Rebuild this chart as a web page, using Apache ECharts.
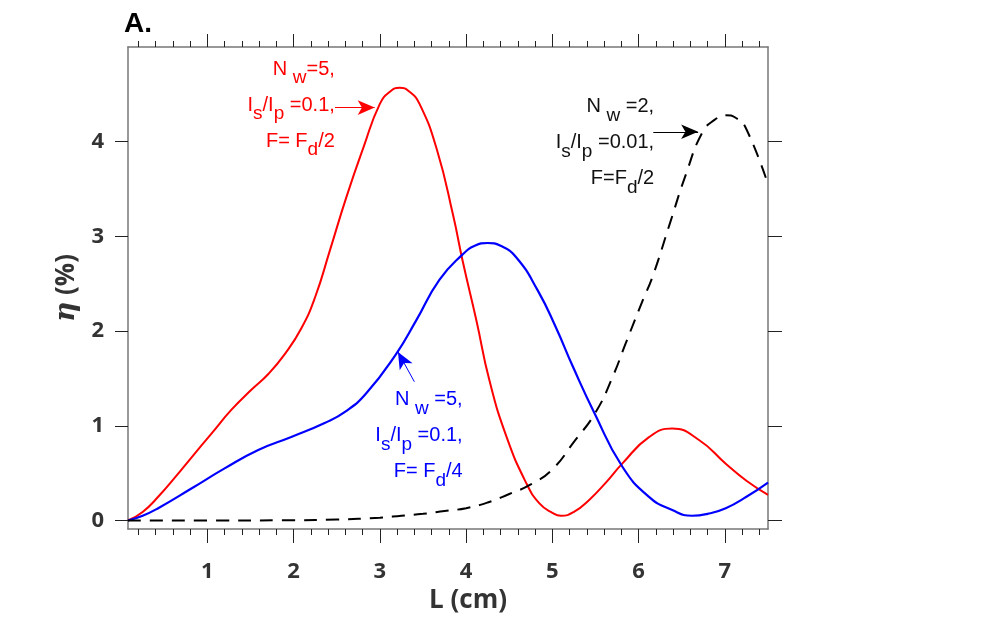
<!DOCTYPE html>
<html>
<head>
<meta charset="utf-8">
<style>
html, body { margin: 0; padding: 0; background: #fff; }
#chart-panel { width: 990px; height: 625px; }
</style>
<script src="https://cdn.jsdelivr.net/npm/echarts@6/dist/echarts.min.js"></script>
</head>
<body>
<div id="chart-panel"></div>
<script type="text/javascript">
// curve readings, L (cm) vs eta (%)
var redL = [0.08, 0.25, 0.43, 0.63, 0.82, 1.05, 1.28, 1.51, 1.71, 1.90, 2.09, 2.25, 2.42, 2.61, 2.81, 3.0, 3.12, 3.23, 3.34, 3.46, 3.66, 3.85, 3.96, 4.12, 4.27, 4.47, 4.70, 4.85, 5.0, 5.1, 5.25, 5.43, 5.62, 5.81, 6.12, 6.39, 6.70, 7.01, 7.25, 7.5];
var redEta = [0, 0.09, 0.25, 0.46, 0.67, 0.92, 1.17, 1.38, 1.55, 1.76, 2.03, 2.36, 2.85, 3.41, 3.94, 4.40, 4.53, 4.57, 4.53, 4.40, 3.92, 3.22, 2.74, 2.11, 1.48, 0.88, 0.39, 0.18, 0.08, 0.05, 0.09, 0.22, 0.40, 0.60, 0.88, 0.97, 0.85, 0.60, 0.42, 0.27];

var blueL = [0.08, 0.25, 0.43, 0.82, 1.20, 1.59, 1.98, 2.36, 2.60, 2.84, 3.19, 3.42, 3.69, 3.96, 4.10, 4.25, 4.40, 4.58, 4.83, 5.04, 5.24, 5.49, 5.81, 6.12, 6.39, 6.62, 6.80, 7.01, 7.25, 7.5];
var blueEta = [0, 0.05, 0.13, 0.34, 0.55, 0.745, 0.885, 1.03, 1.15, 1.34, 1.76, 2.11, 2.54, 2.81, 2.90, 2.93, 2.90, 2.78, 2.43, 2.04, 1.62, 1.13, 0.57, 0.25, 0.11, 0.05, 0.07, 0.13, 0.25, 0.40];

var blackL = [0.08, 1.0, 2.0, 2.5, 3.0, 3.25, 3.5, 3.75, 4.0, 4.25, 4.5, 4.75, 5.0, 5.25, 5.5, 5.70, 5.85, 6.05, 6.16, 6.36, 6.55, 6.74, 6.88, 7.01, 7.13, 7.24, 7.5];
var blackEta = [0, 0, 0.003, 0.01, 0.03, 0.05, 0.07, 0.10, 0.13, 0.19, 0.28, 0.38, 0.54, 0.83, 1.14, 1.52, 1.87, 2.33, 2.57, 3.13, 3.66, 4.10, 4.23, 4.28, 4.25, 4.15, 3.55];

// ticks
var xMajorTicks = [1, 2, 3, 4, 5, 6, 7];
var xMinorTicks = [0.2, 0.4, 0.6, 0.8, 1.2, 1.4, 1.6, 1.8, 2.2, 2.4, 2.6, 2.8, 3.2, 3.4, 3.6, 3.8, 4.2, 4.4, 4.6, 4.8, 5.2, 5.4, 5.6, 5.8, 6.2, 6.4, 6.6, 6.8, 7.2, 7.4];
var yTicks = [0, 1, 2, 3, 4];

// annotation anchors (data coords)
var redArrow = [[2.48, 4.36], [2.94, 4.36]];
var blueArrow = [[3.40, 1.465], [3.21, 1.78]];
var blackArrow = [[6.17, 4.105], [6.69, 4.105]];
var redNote = [2.478, 4.386];
var blueNote = [3.96, 0.898];
var blackNote = [6.18, 3.99];

function pairs(xs, ys) {
    return xs.map(function (x, i) { return [x, ys[i]]; });
}

var xMin = 0.08, xMax = 7.5, yMin = -0.09, yMax = 5;
var lineCol = '#777';
var tickCol = '#222';
var labelFont = 'Open Sans';

function xAxisDef(pos, ticks, len, showLine, withLabel) {
    var a = {
        type: 'value', position: pos, min: xMin, max: xMax,
        splitLine: { show: false },
        axisLine: { show: showLine, onZero: false, lineStyle: { color: lineCol, width: 1.5 } },
        axisTick: { show: true, customValues: ticks, length: len, lineStyle: { color: tickCol, width: 1 } },
        axisLabel: { show: false }
    };
    if (withLabel) {
        a.axisLabel = {
            show: true, customValues: xMajorTicks, margin: 32,
            fontSize: 22, fontWeight: 'bold', color: '#333', fontFamily: labelFont
        };
        a.name = 'L (cm)';
        a.nameLocation = 'middle';
        a.nameGap = 50;
        a.nameTextStyle = {
            fontSize: 26, fontWeight: 'bold', color: '#333', fontFamily: labelFont,
            padding: [0, 0, 0, 40]
        };
    }
    return a;
}

function note(color, lines) {
    return {
        show: true, position: 'left', distance: 0, align: 'right',
        formatter: lines.join('\n'),
        rich: {
            t: { fontSize: 20, lineHeight: 36, color: color, fontFamily: 'Liberation Sans' },
            s: { fontSize: 19, lineHeight: 18, padding: [18, 0, 0, 0], color: color, fontFamily: 'Liberation Sans' }
        }
    };
}

function arrow(color, pts) {
    return {
        silent: true, symbol: ['none', 'arrow'], symbolSize: [11, 17],
        lineStyle: { color: color, width: 1, type: 'solid' },
        label: { show: false },
        emphasis: { disabled: true },
        data: [[{ coord: pts[0] }, { coord: pts[1] }]]
    };
}

function notePoint(color, pt, lines) {
    return {
        silent: true, symbol: 'circle', symbolSize: 0,
        itemStyle: { color: 'rgba(0,0,0,0)' },
        label: note(color, lines),
        data: [{ coord: pt }]
    };
}

var myChart = echarts.init(document.getElementById('chart-panel'));

var option = {
    animation: false,
    backgroundColor: '#fff',
    title: {
        text: 'A.', left: 124, top: 10, padding: 0,
        textStyle: { fontSize: 28, fontWeight: 'bold', color: '#000', fontFamily: 'Liberation Sans' }
    },
    grid: { left: 128, right: 222, top: 47, bottom: 96 },
    xAxis: [
        xAxisDef('bottom', xMajorTicks, 14, true, true),
        xAxisDef('bottom', xMinorTicks, 6, false, false),
        xAxisDef('top', xMajorTicks, 13, true, false),
        xAxisDef('top', xMinorTicks, 6, false, false)
    ],
    yAxis: [
        {
            type: 'value', position: 'left', min: yMin, max: yMax,
            splitLine: { show: false },
            axisLine: { show: true, onZero: false, lineStyle: { color: lineCol, width: 1.5 } },
            axisTick: { show: true, customValues: yTicks, length: 13, lineStyle: { color: tickCol, width: 1 } },
            axisLabel: {
                customValues: yTicks, margin: 24,
                fontSize: 22, fontWeight: 'bold', color: '#333', fontFamily: labelFont
            },
            name: '{e|η} (%)',
            nameLocation: 'middle',
            nameGap: 44,
            nameTextStyle: {
                fontSize: 26, fontWeight: 'bold', color: '#333', fontFamily: labelFont,
                rich: { e: { fontSize: 28, fontWeight: 'bold', fontStyle: 'italic', color: '#333', fontFamily: 'DejaVu Serif' } }
            }
        },
        {
            type: 'value', position: 'right', min: yMin, max: yMax,
            splitLine: { show: false },
            axisLine: { show: true, onZero: false, lineStyle: { color: lineCol, width: 1.5 } },
            axisTick: { show: true, customValues: yTicks, length: 14, lineStyle: { color: tickCol, width: 1 } },
            axisLabel: { show: false }
        }
    ],
    series: [
        {
            name: 'Nw=5, Is/Ip=0.1, F=Fd/2', type: 'line', xAxisIndex: 0, yAxisIndex: 0,
            data: pairs(redL, redEta), smooth: 0.5, showSymbol: false,
            lineStyle: { color: '#ff0000', width: 2 },
            markLine: arrow('#ff0000', redArrow),
            markPoint: notePoint('#ff0000', redNote,
                ['{t|N }{s|w}{t|=5,}', '{t|I}{s|s}{t|/I}{s|p}{t| =0.1,}', '{t|F= F}{s|d}{t|/2}'])
        },
        {
            name: 'Nw=5, Is/Ip=0.1, F=Fd/4', type: 'line', xAxisIndex: 0, yAxisIndex: 0,
            data: pairs(blueL, blueEta), smooth: 0.5, showSymbol: false,
            lineStyle: { color: '#0000ff', width: 2.2 },
            markLine: arrow('#0000ff', blueArrow),
            markPoint: notePoint('#0000ff', blueNote,
                ['{t|N }{s|w}{t| =5,}', '{t|I}{s|s}{t|/I}{s|p}{t| =0.1,}', '{t|F= F}{s|d}{t|/4}'])
        },
        {
            name: 'Nw=2, Is/Ip=0.01, F=Fd/2', type: 'line', xAxisIndex: 0, yAxisIndex: 0,
            data: pairs(blackL, blackEta), smooth: 0.5, showSymbol: false,
            lineStyle: { color: '#000', width: 2, type: [13, 9] },
            markLine: arrow('#000', blackArrow),
            markPoint: notePoint('#111', blackNote,
                ['{t|N }{s|w}{t| =2,}', '{t|I}{s|s}{t|/I}{s|p}{t| =0.01,}', '{t|F=F}{s|d}{t|/2}'])
        }
    ]
};

myChart.setOption(option);
</script>
</body>
</html>
